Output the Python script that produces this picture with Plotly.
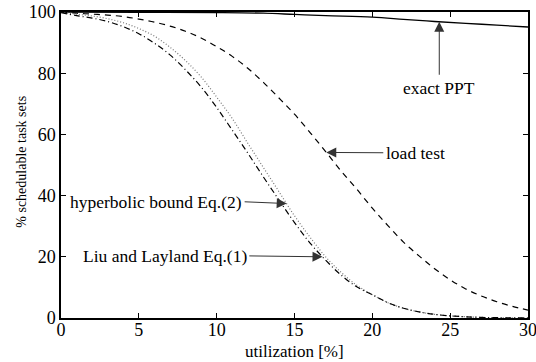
import plotly.graph_objects as go

# utilization grid (%) for the bound curves
util = list(range(0, 31))

liu_layland = [99.8, 98.8, 98.0, 96.9, 95.2, 92.9, 89.8, 86.0, 81.1, 75.5, 68.8,
               61.4, 53.9, 46.1, 38.6, 31.2, 24.5, 18.9, 14.0, 10.2, 7.6,
               5.0, 3.2, 2.0, 1.2, 0.7, 0.4, 0.2, 0.1, 0.05, 0.0]
hyperbolic = [99.9, 99.3, 98.7, 97.8, 96.5, 94.6, 92.1, 88.5, 84.1, 78.8, 72.2,
              65.2, 57.1, 49.2, 41.3, 33.4, 26.4, 20.0, 14.9, 10.7, 7.6,
              5.0, 3.2, 2.0, 1.2, 0.7, 0.4, 0.2, 0.1, 0.05, 0.02]
load_test = [100.0, 99.6, 99.3, 99.0, 98.5, 97.7, 96.7, 95.4, 93.7, 91.5, 88.7,
             85.5, 81.6, 77.0, 71.9, 66.6, 60.6, 54.4, 48.0, 42.1, 35.9,
             30.2, 24.8, 20.3, 16.1, 12.5, 9.5, 7.2, 5.3, 3.8, 2.6]

ppt_util = [0, 5, 10, 13, 15, 17, 20, 22, 24, 26, 28, 30]
exact_ppt = [100.0, 99.9, 99.8, 99.6, 99.2, 98.8, 98.3, 97.6, 96.9, 96.3, 95.7, 95.1]

x_ticks = [0, 5, 10, 15, 20, 25, 30]
y_ticks = [0, 20, 40, 60, 80, 100]

FONT = "'Liberation Serif', 'Times New Roman', 'DejaVu Serif', serif"

fig = go.Figure()
fig.add_trace(go.Scatter(x=ppt_util, y=exact_ppt, mode="lines",
                         line=dict(color="black", width=1.3), line_shape="spline"))
fig.add_trace(go.Scatter(x=util, y=load_test, mode="lines",
                         line=dict(color="black", width=1.2, dash="6px,5px"), line_shape="spline"))
fig.add_trace(go.Scatter(x=util, y=hyperbolic, mode="lines",
                         line=dict(color="#777777", width=1.2, dash="1px,2px"), line_shape="spline"))
fig.add_trace(go.Scatter(x=util, y=liu_layland, mode="lines",
                         line=dict(color="black", width=1.2, dash="6px,3px,1px,3px"), line_shape="spline"))

# labels with arrows: (text, text x, text y, anchor, arrow tail x, tail y, tip x, tip y)
labels = [
    ("exact PPT", 24.3, 75.3, "center", 24.3, 79.0, 24.3, 96.8),
    ("load test", 20.8, 54.0, "left", 20.8, 54.0, 17.04, 54.1),
    ("hyperbolic bound Eq.(2)", 11.7, 38.0, "right", 11.7, 38.0, 14.5, 37.4),
    ("Liu and Layland Eq.(1)", 12.0, 20.3, "right", 12.0, 20.3, 16.8, 20.0),
]
for text, tx, ty, anchor, axx, ayy, px, py in labels:
    fig.add_annotation(x=px, y=py, ax=axx, ay=ayy, xref="x", yref="y",
                       axref="x", ayref="y", text="", showarrow=True,
                       arrowhead=2, arrowsize=2.0, arrowwidth=1.0,
                       arrowcolor="#333333", standoff=0, startstandoff=0)
    fig.add_annotation(x=tx, y=ty, xref="x", yref="y", text=text, showarrow=False,
                       xanchor=anchor, yanchor="middle", borderpad=0,
                       font=dict(family=FONT, size=17.5, color="black"))

# axis titles
fig.add_annotation(x=0.501, y=-0.108, xref="paper", yref="paper", text="utilization [%]",
                   showarrow=False, xanchor="center", yanchor="middle",
                   font=dict(family=FONT, size=17, color="black"))
fig.add_annotation(x=-0.084, y=0.51, xref="paper", yref="paper", text="% schedulable task sets",
                   showarrow=False, xanchor="center", yanchor="middle", textangle=-90,
                   font=dict(family=FONT, size=14, color="black"))

axis_common = dict(showgrid=False, zeroline=False, showline=True, linecolor="black",
                   linewidth=1.5, mirror="allticks", ticks="inside", ticklen=5,
                   tickcolor="black", tickwidth=1, automargin=False,
                   ticklabeloverflow="allow",
                   tickfont=dict(family=FONT, size=18, color="black"))

fig.update_xaxes(range=[0, 30], tickvals=x_ticks, ticklabelstandoff=-5, **axis_common)
fig.update_yaxes(range=[0, 100], tickvals=y_ticks, **axis_common)

fig.update_layout(width=536, height=362, showlegend=False,
                  margin=dict(l=61, r=8, t=12, b=44),
                  plot_bgcolor="white", paper_bgcolor="white",
                  font=dict(family=FONT))

fig.write_html("out.html")
